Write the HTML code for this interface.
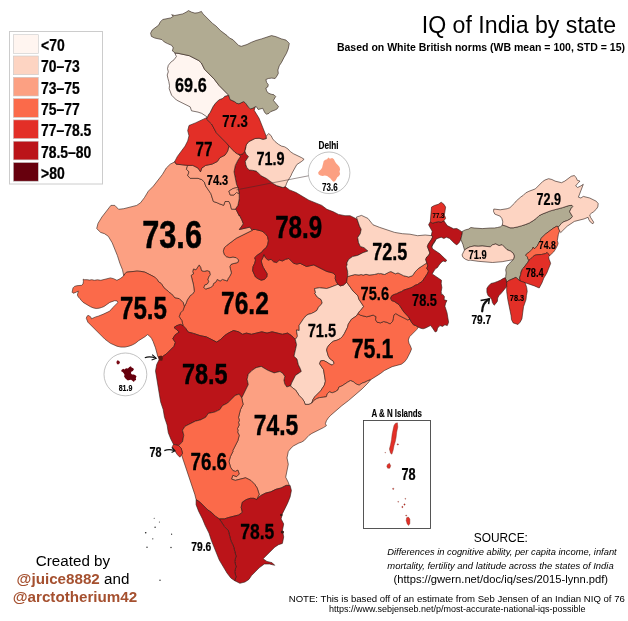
<!DOCTYPE html><html><head><meta charset="utf-8"><title>IQ of India by state</title><style>html,body{margin:0;padding:0;background:#fff}svg{display:block}</style></head><body><svg width="628" height="621" viewBox="0 0 628 621">
<rect width="628" height="621" fill="#fff"/>
<g stroke="#2a1a14" stroke-width="0.6" stroke-linejoin="round">
<path d="M328.8,288.0 338.1,284.4 336.3,281.8 335.2,278.6 335.5,275.4 333.1,273.0 326.7,271.4 313.8,264.9 306.5,266.5 300.1,263.3 296.9,264.1 293.6,263.3 288.8,258.5 285.6,259.3 282.4,260.9 279.2,260.1 276.7,262.5 273.5,261.7 271.1,259.3 267.9,260.1 265.5,257.7 263.9,254.5 262.8,257.7 261.2,260.9 262.0,264.1 263.2,267.3 267.1,273.8 266.8,277.0 264.4,279.4 261.2,280.2 257.9,278.6 255.5,277.0 252.6,270.6 253.1,266.5 254.7,263.3 255.5,260.1 254.7,257.7 257.1,255.3 262.0,252.0 263.6,249.6 266.0,248.0 267.6,244.8 268.4,240.8 267.6,236.7 265.2,233.5 262.0,231.1 255.5,229.5 253.0,229.5 252.3,230.3 236.2,238.3 226.5,245.6 224.1,248.0 223.3,251.2 224.1,254.5 226.5,256.9 229.8,257.7 233.0,257.2 236.2,257.7 238.6,260.1 237.8,262.5 231.4,264.1 229.8,266.5 231.4,273.0 229.8,276.2 228.1,278.6 227.3,281.0 222.5,279.4 220.1,281.0 217.2,279.4 216.1,281.8 213.6,283.4 212.8,285.9 210.4,287.5 205.6,289.1 204.0,287.5 204.8,285.0 207.2,284.2 208.8,281.8 208.0,279.4 208.8,277.0 210.4,274.6 209.6,271.4 207.2,270.6 204.0,271.4 201.6,270.6 200.8,267.3 199.2,264.9 195.9,269.8 193.5,268.9 192.7,271.4 193.5,273.8 191.1,275.4 193.5,285.0 194.3,291.5 192.7,293.9 190.3,295.5 187.1,300.3 186.3,302.8 184.3,306.6 183.1,310.2 180.5,312.8 179.2,316.7 181.8,320.5 183.1,325.7 185.6,328.3 188.2,332.1 193.4,333.4 200.0,335.6 206.4,336.9 216.7,342.1 220.6,339.5 224.5,335.6 228.3,333.1 233.5,330.5 238.6,331.8 242.5,334.3 246.4,333.1 251.5,334.3 261.8,331.8 267.0,333.1 272.1,331.8 282.4,334.3 287.6,333.1 291.5,335.6 295.3,339.5 297.3,336.6 297.4,335.8 296.4,330.0 299.2,330.5 299.2,325.3 304.3,317.6 305.1,317.1 305.6,316.0 308.1,314.4 311.3,313.6 314.5,312.0 316.9,310.4 318.5,307.2 320.9,304.8 322.2,302.9 321.1,299.6 317.2,297.0 314.7,293.1 315.8,292.4 315.3,291.9 314.5,288.6 319.3,287.8 326.7,288.5Z" fill="#fb6a4a"/>
<path d="M170.2,164.2 166.3,168.0 162.4,174.5 153.4,186.1 148.3,191.2 144.4,197.7 140.5,202.8 136.7,205.4 123.8,208.7 118.6,209.3 114.8,205.4 110.9,205.4 101.9,217.0 98.0,223.4 96.7,228.6 100.6,232.4 104.5,233.7 108.3,236.3 112.2,242.8 117.4,255.6 119.9,263.4 122.5,269.8 123.7,275.7 124.9,273.9 126.5,272.2 137.0,271.1 141.0,271.4 145.0,272.2 154.7,277.1 157.1,279.5 158.7,281.9 161.2,283.5 164.4,288.3 166.8,290.0 169.2,292.4 171.6,294.0 175.0,298.0 179.2,298.6 183.1,302.5 184.3,306.7 186.3,302.8 187.1,300.3 190.3,295.5 192.7,293.9 194.3,291.5 193.5,285.0 191.1,275.4 193.5,273.8 192.7,271.4 193.5,268.9 195.9,269.8 199.2,264.9 200.8,267.3 201.6,270.6 204.0,271.4 207.2,270.6 209.6,271.4 210.4,274.6 208.8,277.0 208.0,279.4 208.8,281.8 207.2,284.2 204.8,285.0 204.0,287.5 205.6,289.1 210.4,287.5 212.8,285.9 213.6,283.4 216.1,281.8 217.2,279.4 220.1,281.0 222.5,279.4 227.3,281.0 228.1,278.6 229.8,276.2 231.4,273.0 229.8,266.5 231.4,264.1 237.8,262.5 238.6,260.1 236.2,257.7 233.0,257.2 229.8,257.7 226.5,256.9 224.1,254.5 223.3,251.2 224.1,248.0 226.5,245.6 236.2,238.3 252.3,230.3 249.9,227.1 239.4,229.5 243.4,223.9 241.8,219.8 239.4,215.0 239.2,215.6 236.6,210.5 235.3,209.2 231.5,209.2 230.2,204.0 228.9,201.5 225.0,201.5 223.7,205.3 219.9,204.0 217.3,202.8 213.4,201.5 210.9,193.7 205.7,186.0 204.4,182.1 201.8,179.6 198.0,178.3 190.2,178.3 187.7,175.7 189.0,171.8 186.4,169.3 187.7,165.4 176.1,164.1 174.9,161.8Z" fill="#fca082"/>
<path d="M179.2,316.7 180.5,312.8 183.1,310.2 184.3,306.4 183.1,302.5 179.2,298.6 175.0,298.0 171.6,294.0 169.2,292.4 166.8,290.0 164.4,288.3 161.2,283.5 158.7,281.9 157.1,279.5 154.7,277.1 145.0,272.2 141.0,271.4 137.0,271.1 126.5,272.2 124.9,273.9 123.3,276.3 120.1,278.7 116.9,280.3 113.6,278.7 110.4,277.9 100.8,280.3 97.5,279.8 94.3,280.3 91.9,279.7 89.5,280.1 87.1,279.7 84.6,279.7 83.2,279.2 83.4,281.6 83.0,284.0 81.7,285.3 76.9,285.7 74.5,286.4 73.0,287.9 72.1,292.2 73.0,293.2 75.0,292.7 78.3,291.1 77.4,295.1 78.4,297.1 79.8,298.5 81.3,300.4 83.2,302.4 90.4,306.7 93.3,307.9 96.2,308.5 99.1,308.2 101.5,307.5 104.0,306.5 109.8,302.4 114.6,300.7 117.0,300.9 118.0,302.4 112.2,308.2 109.8,311.1 103.0,314.3 98.2,316.2 95.7,316.9 91.4,318.8 90.9,317.3 89.5,315.9 88.0,315.4 86.9,316.4 86.3,318.3 87.9,322.2 104.8,339.1 110.4,343.3 116.9,346.2 120.9,347.1 124.9,347.1 128.9,346.2 132.2,345.0 135.4,343.3 138.6,340.7 145.0,336.7 147.5,334.6 149.4,335.9 151.5,338.3 153.1,341.5 155.5,347.9 157.9,356.8 158.8,357.4 162.4,356.6 166.3,354.0 174.0,346.3 175.3,342.4 172.8,338.6 175.3,334.7 179.2,332.1 176.6,329.6 174.0,327.5 176.6,325.7 180.5,324.4 183.1,325.7 181.8,320.5Z" fill="#fb6a4a"/>
<path d="M294.0,356.2 296.6,344.7 295.3,339.5 291.5,335.6 287.6,333.1 282.4,334.3 272.1,331.8 267.0,333.1 261.8,331.8 251.5,334.3 246.4,333.1 242.5,334.3 238.6,331.8 233.5,330.5 228.3,333.1 224.5,335.6 220.6,339.5 216.7,342.1 206.4,336.9 200.0,335.6 193.4,333.4 188.2,332.1 185.6,328.3 183.1,325.7 180.5,324.4 176.6,325.7 174.0,327.5 176.6,329.6 179.2,332.1 175.3,334.7 172.8,338.6 175.3,342.4 174.0,346.3 166.3,354.0 162.4,356.6 158.6,357.4 159.3,359.3 156.7,364.5 155.5,370.9 160.6,401.8 163.2,409.6 164.5,417.3 167.1,425.0 168.3,432.8 170.9,439.2 173.5,444.3 178.6,445.6 182.5,441.8 183.8,435.3 182.5,430.2 185.1,426.3 195.4,421.2 200.5,419.9 205.7,417.3 208.3,413.4 214.7,412.1 219.9,409.6 222.4,405.7 227.6,403.1 235.3,395.4 239.2,394.1 241.8,398.0 248.3,384.5 247.1,379.3 248.3,374.2 252.2,370.3 256.1,367.7 261.2,366.4 267.7,370.3 274.1,372.9 280.0,371.5 282.9,373.5 284.8,376.4 283.9,380.2 284.8,384.1 286.8,387.0 289.7,386.0 290.6,386.0 291.6,383.1 295.5,375.4 301.3,371.5 300.3,368.6 298.4,364.8 297.0,359.0Z" fill="#bb1419"/>
<path d="M319.3,287.8 314.5,288.6 315.3,291.9 315.8,292.3 314.6,293.1 317.2,297.0 321.1,299.6 322.2,302.9 320.9,304.8 318.5,307.2 316.9,310.4 314.5,312.0 311.3,313.6 308.1,314.4 305.6,316.0 305.1,317.1 304.3,317.6 299.1,325.3 299.2,330.5 296.4,330.0 297.4,335.8 297.3,336.6 295.3,339.5 296.6,344.7 294.0,356.3 297.0,359.0 298.4,364.8 300.3,368.6 301.3,371.5 295.5,375.4 291.6,383.1 290.6,386.0 292.6,388.0 295.5,389.9 299.3,395.7 302.2,398.6 304.2,401.5 305.1,404.4 309.0,404.4 311.9,403.0 312.9,399.6 314.8,396.7 320.6,390.9 324.4,385.1 325.4,381.2 324.8,377.3 323.5,369.6 319.6,363.8 320.6,360.9 323.5,360.5 326.4,361.9 329.3,363.8 332.2,365.2 334.1,363.2 333.1,360.9 330.2,359.0 328.3,356.1 326.6,350.0 327.4,347.4 329.0,345.0 331.4,342.6 333.8,341.0 337.0,340.2 340.3,338.6 342.7,336.2 344.3,333.7 347.5,327.3 348.3,324.1 351.5,319.2 356.4,316.0 359.6,311.2 362.0,308.8 363.6,306.4 358.8,299.1 358.0,295.9 353.1,291.1 346.7,282.2 343.6,285.0 340.3,285.9 338.1,284.3 328.8,287.9 326.7,288.5Z" fill="#fdd4c2"/>
<path d="M356.4,316.0 351.5,319.2 348.3,324.1 347.5,327.3 344.3,333.7 342.7,336.2 340.3,338.6 337.0,340.2 333.8,341.0 331.4,342.6 329.0,345.0 327.4,347.4 326.6,350.0 328.3,356.1 330.2,359.0 333.1,360.9 334.1,363.2 332.2,365.2 329.3,363.8 326.4,361.9 323.5,360.5 320.6,360.9 319.6,363.8 323.5,369.6 325.4,381.2 324.4,385.1 320.6,390.9 314.8,396.7 312.9,399.6 311.9,403.0 313.8,400.5 316.7,398.6 319.6,397.6 323.5,397.2 326.4,396.7 327.3,393.8 329.3,391.8 332.2,392.8 335.1,391.8 338.0,389.9 338.9,387.0 341.8,386.0 347.6,382.2 350.5,380.6 353.4,381.8 356.3,384.1 359.2,385.1 362.1,383.1 365.0,382.2 367.9,380.6 370.4,379.9 380.5,373.5 384.3,370.6 392.1,366.7 401.4,364.2 404.6,361.8 407.0,358.6 410.3,352.1 411.5,348.9 410.3,345.7 409.0,343.3 408.3,340.0 409.5,336.8 416.7,329.6 418.3,327.2 415.9,325.6 413.5,324.8 411.5,322.3 409.9,319.1 407.8,319.9 398.2,315.1 395.8,313.5 393.8,315.1 393.3,318.3 392.5,321.5 390.1,323.9 386.9,322.3 383.7,321.5 380.5,322.8 377.2,322.3 375.6,319.9 376.1,316.7 373.2,315.1 366.8,316.8 360.4,315.2 358.0,313.6Z" fill="#fb6a4a"/>
<path d="M288.3,451.5 291.2,447.9 293.5,445.9 298.9,443.0 301.6,442.1 304.2,440.5 309.0,435.3 311.9,433.4 323.5,427.6 326.4,425.7 325.4,423.7 326.4,420.8 328.3,417.9 330.6,415.4 341.8,405.7 348.6,400.5 362.1,388.9 367.9,383.1 370.4,379.9 367.9,380.6 365.0,382.2 362.1,383.1 359.2,385.1 356.3,384.1 353.4,381.8 350.5,380.6 347.6,382.2 341.8,386.0 338.9,387.0 338.0,389.9 335.1,391.8 332.2,392.8 329.3,391.8 327.3,393.8 326.4,396.7 323.5,397.2 319.6,397.6 316.7,398.6 313.8,400.5 311.9,403.0 309.0,404.4 305.1,404.4 304.2,401.5 302.2,398.6 299.3,395.7 295.5,389.9 292.6,388.0 290.6,386.0 289.7,386.0 286.8,387.0 284.8,384.1 283.9,380.2 284.8,376.4 282.9,373.5 280.0,371.5 274.1,372.9 267.7,370.3 261.2,366.4 256.1,367.7 252.2,370.3 248.3,374.2 247.1,379.3 248.3,384.5 241.7,398.0 243.1,404.4 240.4,409.6 238.5,417.4 239.3,420.5 238.5,422.2 239.2,425.0 237.5,428.5 238.0,430.9 237.5,431.9 239.2,435.3 237.9,440.5 232.7,450.8 232.9,451.5 230.3,456.6 229.0,461.7 230.5,467.2 232.7,470.5 235.3,471.5 237.9,470.2 239.2,474.0 236.6,476.6 232.8,475.3 231.5,479.1 235.3,480.4 245.6,477.8 250.8,480.4 254.7,484.3 257.2,488.1 259.2,494.4 256.6,499.6 260.5,495.7 265.6,493.1 270.8,491.8 275.9,489.3 281.1,488.0 286.2,485.4 289.3,485.4 288.3,482.4 285.7,477.2 288.3,464.3 287.0,457.9Z" fill="#fca082"/>
<path d="M181.5,454.8 194.8,494.4 196.1,499.6 199.9,502.1 207.7,509.9 211.5,512.4 215.4,516.3 219.3,518.9 224.4,518.9 228.3,517.6 238.6,515.0 242.4,512.4 241.2,507.3 242.4,502.1 246.3,499.6 250.2,498.3 254.0,498.3 256.6,499.6 259.2,494.4 257.2,488.1 254.7,484.3 250.8,480.4 245.6,477.8 235.3,480.4 231.5,479.1 232.8,475.3 236.6,476.6 239.2,474.0 237.9,470.1 235.3,471.4 232.8,470.5 230.5,467.2 229.0,461.7 230.4,456.6 232.9,451.5 232.7,450.8 237.9,440.5 239.2,435.3 237.5,432.0 238.1,430.9 237.5,428.5 239.2,425.0 238.5,422.3 239.4,420.5 238.5,417.3 240.5,409.6 243.1,404.4 241.8,398.0 239.2,394.1 235.3,395.4 227.6,403.1 222.4,405.7 219.9,409.6 214.7,412.1 208.3,413.4 205.7,417.3 200.5,419.9 195.4,421.2 185.1,426.3 182.5,430.2 183.8,435.3 182.5,441.8 178.6,445.6 181.2,448.2 182.5,453.3Z" fill="#fb6a4a"/>
<path d="M172.2,446.9 177.4,454.7 179.9,457.2 182.5,453.4 181.2,448.2 178.6,445.6 173.5,444.3Z" fill="#e32f27"/>
<path d="M239.9,583.3 245.0,582.0 248.9,579.4 251.5,575.6 259.2,567.8 264.3,564.0 269.5,564.0 274.7,565.3 272.1,562.7 266.9,561.4 263.1,558.8 274.7,547.2 278.5,544.7 282.4,543.4 283.7,536.9 282.4,530.5 283.7,524.0 281.1,518.9 282.4,513.7 287.5,503.4 290.1,497.0 291.4,490.5 290.1,485.4 286.2,485.4 281.1,488.0 275.9,489.3 270.8,491.8 265.6,493.1 260.5,495.7 256.6,499.6 254.0,498.3 250.2,498.3 246.3,499.6 242.4,502.1 241.2,507.3 242.4,512.4 238.6,515.0 228.3,517.6 224.4,518.9 219.3,518.9 224.4,526.6 228.3,530.5 230.9,540.8 233.4,545.9 236.0,556.2 234.7,561.4 236.0,566.6 234.7,571.7 236.0,576.9 234.7,580.7Z" fill="#bb1419"/>
<path d="M196.1,504.7 198.6,511.2 202.5,518.9 205.1,525.3 209.0,533.1 211.5,540.8 219.3,560.1 227.0,573.0 230.9,578.1 234.7,580.7 236.0,576.9 234.7,571.7 236.0,566.6 234.7,561.4 236.0,556.2 233.4,545.9 230.9,540.8 228.3,530.5 224.4,526.6 219.3,518.9 215.4,516.3 211.5,512.4 207.7,509.9 199.9,502.1 196.1,499.6Z" fill="#bb1419"/>
<path d="M239.2,193.7 239.2,198.9 237.9,205.3 235.3,209.2 236.6,210.5 239.2,215.7 239.4,215.1 241.8,219.8 243.4,223.9 239.4,229.5 249.8,227.1 252.3,230.3 253.1,229.5 255.5,229.5 262.0,231.1 265.2,233.5 267.6,236.7 268.4,240.8 267.6,244.8 266.0,248.0 263.6,249.6 262.0,252.0 257.1,255.3 254.7,257.7 255.5,260.1 254.7,263.3 253.1,266.5 252.6,270.6 255.5,277.0 257.9,278.6 261.2,280.2 264.4,279.4 266.8,277.0 267.1,273.8 263.2,267.3 262.0,264.1 261.2,260.9 262.8,257.7 263.9,254.5 265.5,257.7 267.9,260.1 271.1,259.3 273.5,261.7 276.7,262.5 279.2,260.1 282.4,260.9 285.6,259.3 288.8,258.5 293.6,263.3 296.9,264.1 300.1,263.3 306.5,266.5 313.8,264.9 326.7,271.4 333.1,273.0 335.5,275.4 335.2,278.6 336.3,281.8 337.9,284.2 340.3,285.9 343.6,285.0 346.7,282.2 348.0,273.6 347.5,273.2 347.7,271.8 346.5,266.5 347.2,264.5 346.8,263.0 348.8,259.2 352.6,256.6 357.7,255.4 363.2,252.7 367.9,251.0 364.1,247.7 360.3,246.4 358.5,242.6 357.7,237.5 360.3,233.7 361.2,229.3 359.5,226.1 357.2,219.2 350.1,215.7 345.0,215.7 338.5,214.4 333.4,211.8 326.9,209.3 321.8,205.4 308.9,200.2 296.0,192.5 289.6,189.9 285.1,186.6 283.1,187.6 276.7,185.6 273.8,183.9 266.4,178.3 261.2,175.8 257.4,171.9 256.2,171.1 252.5,170.3 249.3,169.9 246.9,167.8 245.8,164.6 245.3,161.4 248.6,156.6 246.1,154.1 244.9,150.9 245.8,147.7 245.7,146.8 244.5,151.3 242.9,153.7 240.6,154.5 238.0,153.9 240.4,156.4 237.9,160.2 235.3,165.4 234.0,171.8 236.6,184.7 237.9,187.3Z" fill="#bb1419"/>
<path d="M248.5,156.6 245.3,161.4 245.8,164.6 246.9,167.8 249.3,169.9 252.5,170.3 256.2,171.1 257.3,171.9 261.2,175.8 266.4,178.4 273.8,183.9 276.7,185.6 283.1,187.6 285.1,186.6 285.4,186.8 286.4,183.9 287.6,181.2 290.9,175.9 292.0,173.2 296.8,164.6 301.7,161.4 304.1,159.3 301.7,157.7 293.6,153.8 290.4,151.7 288.0,149.0 284.8,146.9 281.5,146.1 278.3,144.2 275.1,141.6 272.7,138.9 271.1,135.6 268.6,133.5 265.9,136.6 266.3,138.5 263.1,139.3 259.1,138.2 255.0,138.5 248.6,141.7 246.2,144.9 245.7,146.9 245.8,147.7 244.8,150.9 246.1,154.2Z" fill="#fdd4c2"/>
<path d="M187.7,165.4 186.4,169.3 189.0,171.8 187.7,175.7 190.2,178.3 198.0,178.3 201.8,179.6 204.4,182.1 205.7,186.0 210.9,193.7 213.4,201.5 217.3,202.8 219.9,204.0 223.7,205.3 225.0,201.5 228.9,201.5 230.2,204.0 231.5,209.2 235.3,209.2 237.9,205.3 239.2,198.9 239.2,193.7 236.6,192.4 234.0,195.0 230.2,195.0 228.9,191.2 232.8,188.6 237.9,187.3 236.6,184.7 234.0,171.8 235.3,165.4 237.9,160.2 240.5,156.4 238.1,154.0 237.3,153.8 234.9,152.2 230.1,147.3 229.5,146.5 228.9,146.1 227.6,151.2 225.0,155.1 219.9,157.7 217.3,161.5 212.1,164.1 205.7,165.4 201.8,168.0 200.5,171.8 198.0,168.0 192.8,165.4Z" fill="#fca082"/>
<path d="M232.8,188.6 228.9,191.2 230.2,195.0 234.0,195.0 236.6,192.4 239.2,193.7 237.9,187.3Z" fill="#fca082"/>
<path d="M195.4,122.9 189.0,125.5 187.7,130.6 189.0,135.8 187.7,140.9 185.1,146.1 177.4,156.4 174.5,162.0 174.9,161.8 176.1,164.1 187.7,165.4 192.8,165.4 198.0,168.0 200.5,171.8 201.8,168.0 205.7,165.4 212.1,164.1 217.3,161.5 219.9,157.7 225.0,155.1 227.6,151.2 228.9,146.1 226.7,143.1 216.4,132.8 211.6,124.0 206.7,119.2 207.2,117.4Z" fill="#e32f27"/>
<path d="M213.2,106.3 210.0,112.7 208.2,115.1 207.5,117.2 207.3,117.1 206.7,119.2 211.6,124.0 216.4,132.8 226.6,143.1 228.9,146.1 229.6,146.5 230.1,147.3 234.9,152.2 237.3,153.8 240.6,154.6 243.0,153.8 244.6,151.4 246.2,144.9 248.6,141.7 255.0,138.5 259.1,138.2 263.1,139.3 266.3,138.5 266.0,136.7 266.3,136.4 259.1,118.3 254.2,110.3 255.2,106.9 252.5,108.3 250.3,108.9 248.6,107.2 245.2,102.7 243.5,101.6 239.0,103.8 236.8,103.3 234.5,101.6 230.0,99.5 228.7,95.1 224.7,96.4 222.8,98.2 218.8,99.8 215.6,103.1Z" fill="#e32f27"/>
<path d="M176.4,56.5 174.0,59.8 170.8,62.2 168.3,65.4 167.5,68.6 168.3,71.8 167.2,75.0 167.9,78.3 168.8,81.5 169.5,85.5 169.2,88.7 171.6,95.2 176.4,100.0 190.2,106.9 191.5,110.8 198.0,112.1 201.8,113.4 207.5,117.2 208.2,115.1 210.0,112.7 213.2,106.3 215.6,103.1 218.8,99.9 222.9,98.3 224.7,96.3 228.7,95.2 219.1,85.5 214.2,79.1 204.6,69.4 201.4,63.0 198.9,60.6 189.3,55.7 178.0,53.3 174.8,53.0Z" fill="#fff5f0"/>
<path d="M161.9,39.6 164.3,42.0 167.5,43.6 171.6,45.3 173.2,47.7 172.4,50.9 174.4,52.3 174.8,53.0 178.1,53.3 189.3,55.7 198.9,60.6 201.4,63.0 204.6,69.4 214.2,79.1 219.1,85.5 228.7,95.2 230.0,99.5 234.5,101.6 236.8,103.3 239.0,103.8 243.5,101.6 245.2,102.7 248.6,107.2 250.3,108.9 252.5,108.3 256.1,106.4 258.2,109.5 262.7,108.3 264.9,112.8 266.6,114.2 268.9,113.4 270.6,111.7 275.1,110.0 277.1,108.9 278.5,106.6 273.4,100.4 275.7,96.5 274.0,94.8 271.1,94.2 268.3,93.1 266.6,90.9 265.9,88.0 267.8,86.9 268.3,84.7 266.6,82.4 265.9,79.6 268.3,78.5 271.7,78.1 275.1,78.5 276.8,76.2 278.3,73.4 277.9,70.0 279.3,65.7 281.5,62.4 283.8,57.9 286.4,53.4 288.2,49.0 289.3,43.4 286.0,40.1 281.5,38.9 276.0,36.7 271.5,35.6 261.5,38.9 255.9,40.5 251.4,42.3 247.0,44.5 241.4,46.3 238.7,45.5 232.8,39.6 229.5,38.0 227.1,35.6 220.7,30.8 215.9,25.9 212.6,23.5 203.0,13.9 201.4,11.4 198.1,12.7 194.9,13.1 191.7,12.2 188.5,10.6 186.1,12.2 182.8,13.9 174.8,15.5 171.6,14.7 173.2,16.3 170.8,17.9 162.7,19.5 160.3,21.9 158.7,25.1 152.2,30.0 150.6,33.2 151.4,36.4 154.7,38.0Z" fill="#b1ab92"/>
<path d="M347.5,276.6 346.7,282.2 353.1,291.1 358.0,295.9 358.8,299.1 363.6,306.4 362.0,308.8 359.6,311.2 358.0,313.6 360.4,315.2 366.8,316.8 373.2,315.1 376.1,316.7 375.6,319.9 377.2,322.3 380.5,322.8 383.7,321.5 386.9,322.3 390.1,323.9 392.5,321.5 393.3,318.3 393.8,315.1 395.8,313.5 398.2,315.1 407.8,319.9 409.9,319.1 408.3,316.7 403.8,311.9 399.0,304.6 394.2,301.4 391.7,300.6 390.6,298.2 391.7,295.8 394.2,294.5 396.6,293.8 399.0,292.5 401.4,291.7 403.8,290.1 410.3,288.0 412.7,286.9 415.1,285.3 417.5,284.5 422.3,281.3 427.2,274.0 428.3,271.6 428.3,270.7 426.7,268.3 427.8,265.9 426.8,262.9 418.9,268.1 415.0,271.9 412.5,275.7 408.7,277.0 403.6,275.7 398.0,272.9 395.4,273.7 391.0,271.5 389.6,271.9 384.5,274.5 380.8,273.5 379.9,273.7 378.5,273.4 374.3,274.5 369.2,275.0 366.0,274.3 363.2,275.0 361.2,274.5 359.0,275.0 354.8,274.5 347.7,276.3Z" fill="#fb6a4a"/>
<path d="M367.9,218.4 361.5,215.4 356.4,217.1 359.5,226.1 361.2,229.2 360.3,233.7 357.7,237.5 358.5,242.6 360.3,246.4 364.1,247.7 367.9,251.0 362.8,252.8 357.7,255.4 352.6,256.6 348.8,259.2 346.8,263.0 347.2,264.4 346.4,266.5 347.7,271.8 347.5,273.2 347.9,273.6 347.5,276.6 354.8,274.6 359.0,275.0 361.1,274.5 363.2,275.1 366.0,274.3 369.2,275.0 374.3,274.5 378.5,273.4 379.9,273.8 380.8,273.5 384.5,274.5 389.6,271.9 391.0,271.6 395.4,273.8 398.0,272.9 403.6,275.7 408.7,277.0 412.5,275.7 415.0,271.9 418.9,268.1 426.8,262.9 425.7,259.4 426.7,257.0 428.6,255.4 429.9,253.0 427.4,246.5 428.3,244.1 431.5,239.3 432.7,236.9 432.1,235.7 425.2,235.0 417.6,235.7 409.9,234.2 402.3,233.7 394.6,232.4 379.4,227.3 373.0,224.8ZM435.2,241.3 435.8,239.4 432.7,244.1 431.5,246.5 431.9,247.3 432.6,245.2Z" fill="#fdd4c2"/>
<path d="M428.6,224.8 432.2,231.2 431.3,235.6 432.1,235.7 432.7,236.9 431.5,239.3 428.3,244.1 427.4,246.5 429.9,253.0 428.6,255.4 426.7,257.0 425.7,259.4 427.8,265.9 426.7,268.3 428.3,270.7 428.3,271.6 427.2,274.0 422.3,281.3 417.5,284.5 415.1,285.3 412.7,286.9 410.3,288.0 403.8,290.1 401.4,291.7 399.0,292.5 396.6,293.8 394.2,294.5 391.7,295.8 390.6,298.2 391.7,300.6 394.2,301.4 399.0,304.6 403.8,311.9 408.3,316.7 409.9,319.1 411.5,322.3 413.5,324.8 415.9,325.6 418.3,327.2 420.7,328.3 423.1,328.8 425.6,328.0 430.4,325.6 432.0,327.2 435.2,332.0 436.8,331.2 437.6,328.0 440.0,325.6 442.5,326.4 444.9,324.8 447.3,325.6 448.6,322.3 447.0,312.7 444.9,306.2 445.7,303.0 447.0,300.6 444.1,299.8 444.4,296.6 442.5,294.2 441.5,295.0 441.2,291.6 441.9,287.6 441.2,283.6 441.5,280.3 432.2,273.9 435.1,269.1 437.5,267.5 439.1,265.0 441.2,262.6 443.1,261.0 445.6,261.8 446.7,260.2 444.8,258.6 439.9,253.8 432.7,248.9 431.5,246.5 432.7,244.1 435.9,239.3 438.3,238.2 441.2,237.2 443.9,238.5 446.4,237.2 449.6,238.5 454.4,243.3 456.8,244.9 459.2,242.5 460.9,239.3 462.4,232.7 462.1,231.5 461.6,231.7 460.0,230.4 456.8,228.5 453.6,228.8 447.2,225.6 443.9,220.8 441.2,222.1 438.3,221.6 432.2,223.2 430.3,221.6Z" fill="#bb1419"/>
<path d="M431.5,207.1 430.3,221.6 432.2,223.2 438.3,221.6 441.2,222.1 443.9,220.8 445.6,218.3 444.4,215.1 445.6,207.1 443.9,204.3 441.2,202.2 438.3,204.3 434.3,205.5Z" fill="#e32f27"/>
<path d="M494.3,228.0 490.3,228.0 482.2,228.6 474.2,228.0 470.9,227.5 468.5,229.1 465.3,229.9 462.1,231.5 462.4,232.7 460.8,239.3 462.9,244.4 464.5,250.0 466.9,248.4 470.1,246.8 474.2,246.0 478.2,246.3 482.2,246.0 490.3,246.8 492.5,244.8 495.8,244.0 499.0,245.6 502.2,244.8 507.0,249.7 510.3,251.0 513.2,253.2 514.3,256.1 513.5,259.3 508.6,264.2 506.7,266.6 505.7,269.8 506.2,273.0 505.7,276.2 505.9,277.5 505.1,277.8 506.2,280.3 506.5,282.4 508.7,280.6 515.9,277.4 520.2,281.1 519.6,277.8 520.7,274.6 521.2,271.4 521.6,271.4 522.1,269.4 523.5,268.0 527.9,262.2 528.8,260.3 527.9,258.8 527.4,256.9 525.9,255.4 526.4,254.0 529.3,252.1 530.8,250.6 532.2,249.2 533.2,247.2 534.2,248.7 535.6,247.7 537.1,246.3 539.0,242.4 540.4,240.9 540.9,238.5 545.3,234.2 553.0,228.4 556.4,226.4 557.8,226.4 558.2,227.3 561.5,223.3 563.9,221.7 567.2,220.6 570.4,218.9 572.5,216.5 569.6,211.7 570.9,208.8 572.8,206.5 572.0,205.3 568.8,205.6 562.3,207.7 550.3,210.9 542.2,214.1 539.0,215.7 536.6,218.1 533.3,220.6 529.3,223.0 525.3,224.6 517.2,227.0 513.2,227.8 510.0,227.8 505.6,225.9 502.3,225.1 500.7,226.7 497.5,227.5Z" fill="#b1ab92"/>
<path d="M559.1,230.2 560.7,232.6 567.2,226.2 574.4,221.4 584.1,218.9 588.1,217.3 588.9,219.8 590.5,222.2 592.9,223.8 593.7,222.2 590.5,217.3 589.7,214.9 591.3,213.3 593.7,211.7 596.2,209.3 597.8,206.9 598.2,203.6 596.2,201.2 589.7,198.0 583.3,196.4 580.9,198.0 578.4,197.2 583.3,184.3 580.9,185.9 577.6,187.5 575.7,185.9 577.6,183.5 580.0,181.1 577.3,180.3 576.3,177.9 574.4,175.5 571.2,176.3 564.8,181.1 561.5,182.7 555.1,181.1 551.9,179.5 548.6,178.7 545.0,180.0 542.6,181.6 535.3,188.9 528.9,191.3 525.7,192.9 523.3,195.3 520.9,196.9 516.3,200.9 514.4,203.3 509.9,207.7 507.2,208.7 500.2,209.8 493.8,209.0 493.5,211.4 494.8,214.1 500.2,216.2 501.9,218.6 502.8,221.9 502.3,225.1 505.6,225.9 510.0,227.8 513.2,227.8 517.2,227.0 521.3,225.9 525.3,224.6 529.3,223.0 533.3,220.6 536.6,218.1 539.0,215.7 542.2,214.1 550.3,210.9 562.3,207.7 568.8,205.6 572.0,205.3 572.8,206.5 570.9,208.8 569.6,211.7 572.5,216.5 570.4,218.9 567.2,220.6 563.9,221.7 561.5,223.3 558.2,227.3Z" fill="#fdd4c2"/>
<path d="M462.1,254.9 462.9,257.3 465.3,259.2 468.5,260.5 470.0,260.1 478.1,261.3 492.5,262.5 502.2,261.7 513.3,259.6 513.5,259.3 514.3,256.1 513.2,253.2 510.3,251.0 507.0,249.7 502.2,244.8 499.0,245.6 495.8,244.0 492.5,244.8 490.3,246.8 482.2,246.0 478.2,246.3 474.2,246.0 470.1,246.8 466.9,248.4 464.5,250.0Z" fill="#fdd4c2"/>
<path d="M549.6,255.7 553.5,252.1 554.9,250.1 557.3,245.8 558.1,243.4 557.3,240.5 558.3,234.7 559.6,230.9 558.9,229.8 557.8,226.4 556.4,226.4 553.0,228.4 545.3,234.2 540.9,238.5 540.4,240.9 539.0,242.4 537.1,246.3 535.6,247.7 534.2,248.7 533.2,247.2 532.2,249.2 530.8,250.6 529.3,252.1 526.4,254.0 525.9,255.4 527.4,256.9 527.9,258.8 528.8,260.3 530.3,259.3 533.2,256.4 534.6,255.4 536.6,254.8 541.4,254.5 543.8,254.0 545.7,253.5 547.2,252.5Z" fill="#fb6a4a"/>
<path d="M527.9,262.2 523.5,268.0 522.1,269.4 521.6,271.4 521.2,271.4 520.7,274.6 519.6,277.8 520.2,281.1 534.4,285.9 539.2,288.0 541.9,283.0 543.8,278.1 546.7,273.3 550.6,263.6 550.1,261.7 549.1,259.3 548.6,256.7 549.7,255.7 547.2,252.5 545.7,253.5 543.8,254.0 541.4,254.5 536.6,254.8 534.6,255.4 533.2,256.4 530.3,259.3 528.8,260.3Z" fill="#e32f27"/>
<path d="M506.7,291.5 507.8,299.6 511.1,315.7 511.5,319.7 513.2,322.9 518.0,324.5 520.2,322.1 521.9,318.9 523.5,306.8 526.0,299.6 526.4,295.6 527.2,291.5 526.7,287.5 525.1,282.7 520.3,281.0 519.1,280.2 515.9,277.4 508.6,280.6 506.6,282.4Z" fill="#e32f27"/>
<path d="M506.7,283.5 506.2,280.3 505.1,277.8 503.0,278.6 500.3,280.3 497.4,281.5 494.2,282.7 490.9,283.5 488.5,285.9 486.9,288.3 486.9,292.3 488.0,295.6 490.1,297.2 491.7,299.6 492.5,302.8 494.2,305.2 495.8,303.6 497.4,301.2 497.7,298.0 499.0,295.6 501.4,293.1 506.7,286.5 506.5,285.0Z" fill="#bb1419"/>
</g>
<circle cx="329.1" cy="172.8" r="20.8" fill="#fff" stroke="#999" stroke-width="0.6"/>
<circle cx="125.4" cy="374.4" r="21.4" fill="#fff" stroke="#999" stroke-width="0.6"/>
<rect x="363.5" y="420.5" width="67" height="108" fill="#fff" stroke="#444" stroke-width="0.9"/>
<line x1="236.4" y1="189.9" x2="308.5" y2="175.8" stroke="#3a2a2a" stroke-width="0.5"/>
<path d="M328.3,157.5 329.9,158.7 332.2,158.1 333.9,159.2 335.0,161.5 336.1,163.2 337.8,164.9 339.5,167.1 340.1,169.4 339.5,171.6 340.1,173.9 339.0,176.1 337.3,177.3 336.1,179.5 335.0,181.2 333.3,181.8 331.6,180.1 330.5,178.4 328.8,177.3 327.1,176.1 324.9,175.6 322.6,176.1 320.4,175.6 318.7,174.5 318.1,172.8 319.2,171.1 320.9,169.4 322.1,167.7 322.6,165.4 323.2,163.2 323.7,160.9 325.4,159.8 327.1,159.2Z" fill="#fca082"/>
<path d="M116.4,362.0 117.5,360.3 119.2,360.9 120.0,362.5 118.9,364.2 117.0,364.2Z" fill="#7a0b16"/>
<path d="M121.5,369.9 123.2,368.7 124.5,369.5 126.0,368.2 127.9,368.4 129.4,367.1 130.9,366.2 131.6,367.6 133.3,368.2 133.9,369.5 132.8,371.0 131.3,371.8 130.9,373.3 132.0,374.4 133.9,374.4 135.4,375.2 136.5,376.3 135.8,378.3 136.1,380.0 134.7,380.6 133.9,381.9 132.4,380.8 131.1,379.7 129.4,380.0 127.9,380.6 126.6,379.5 125.2,378.3 124.1,376.6 124.5,374.7 123.7,373.3 122.6,372.1 121.2,371.3Z" fill="#67000d"/>
<path d="M158.2,356.2 L161.5,355.6 L163,358 L162.2,360.8 L159,360.6 Z" fill="#5a1a12"/>
<path d="M144.8,357.7 C148,356.6 152,356.8 155.6,358.2" fill="none" stroke="#111" stroke-width="1.2"/>
<path d="M152.2,354.6 L156.2,358.4 L151.6,360" fill="none" stroke="#111" stroke-width="1.1"/>
<path d="M164.3,450.6 C167,449.4 171,449.4 174,450.4" fill="none" stroke="#111" stroke-width="1.2"/>
<path d="M171.8,447.4 L175,450.8 L171.6,452.4" fill="none" stroke="#111" stroke-width="1.1"/>
<path d="M482.2,311.3 C482.3,306 484.5,302 488.6,299.4" fill="none" stroke="#111" stroke-width="2.3" stroke-linecap="round"/>
<path d="M480.6,300.6 L489.3,298.9 L488.6,304.2" fill="none" stroke="#111" stroke-width="1.5" stroke-linejoin="miter"/>
<g fill="#e32f27" stroke="#7a2a22" stroke-width="0.4"><path d="M395.3,423.4 397.4,422.8 397.8,427.0 396.7,432.2 396.1,437.5 395.3,441.6 394.0,445.8 393.2,450.0 391.9,454.2 390.5,453.2 389.4,449.0 390.5,444.8 391.5,439.6 392.1,434.3 393.2,429.1 394.0,425.5Z"/><path d="M387.3,464.7 389.4,463.2 390.7,465.7 389.8,468.2 387.7,468.2 386.9,466.4Z"/><path d="M406.6,517.7 408.3,517.0 409.9,519.1 409.9,523.3 408.7,525.4 407.2,524.0 406.2,520.6Z"/><circle cx="397.8" cy="444.4" r="0.63"/><circle cx="393.2" cy="488.8" r="0.63"/><circle cx="398.2" cy="501.8" r="0.42"/><circle cx="405.3" cy="498.8" r="0.42"/><circle cx="404.5" cy="504.5" r="0.63"/><circle cx="402.4" cy="507.0" r="0.63"/><circle cx="406.2" cy="515.6" r="0.52"/><circle cx="385.2" cy="452.7" r="0.31"/></g>
<g fill="#222"><circle cx="154.2" cy="518.3" r="0.5"/><circle cx="159.4" cy="522.1" r="0.5"/><circle cx="155.1" cy="527.3" r="0.7"/><circle cx="145.7" cy="532.8" r="0.8"/><circle cx="171.6" cy="534.2" r="0.6"/><circle cx="152.8" cy="538.8" r="0.6"/><circle cx="147" cy="547.2" r="0.7"/><circle cx="171" cy="547.5" r="0.7"/><circle cx="160" cy="580.3" r="0.7"/></g>
<circle cx="281.3" cy="515" r="1.2" fill="#3a1a14"/><circle cx="282.4" cy="532" r="1.6" fill="#3a1a14"/>
<g font-family="Liberation Sans, Arial, sans-serif" font-weight="bold" text-anchor="middle" fill="#000" stroke="#000" stroke-linejoin="round">
<text transform="translate(190.9,91.6) scale(0.775,1)" font-size="21.0" stroke-width="0.29">69.6</text>
<text transform="translate(235.0,127.2) scale(0.775,1)" font-size="17.0" stroke-width="0.24">77.3</text>
<text transform="translate(204.0,156.2) scale(0.775,1)" font-size="19.7" stroke-width="0.28">77</text>
<text transform="translate(270.5,164.9) scale(0.775,1)" font-size="18.7" stroke-width="0.26">71.9</text>
<text transform="translate(217.5,185.3) scale(0.775,1)" font-size="14.3" stroke-width="0.20">74.3</text>
<text transform="translate(172.1,247.9) scale(0.775,1)" font-size="39.6" stroke-width="0.55">73.6</text>
<text transform="translate(298.7,238.0) scale(0.775,1)" font-size="31.2" stroke-width="0.44">78.9</text>
<text transform="translate(389.8,259.7) scale(0.775,1)" font-size="23.3" stroke-width="0.33">72.5</text>
<text transform="translate(143.5,319.1) scale(0.775,1)" font-size="31.1" stroke-width="0.44">75.5</text>
<text transform="translate(244.9,314.4) scale(0.775,1)" font-size="31.7" stroke-width="0.44">76.2</text>
<text transform="translate(374.8,300.3) scale(0.775,1)" font-size="18.9" stroke-width="0.26">75.6</text>
<text transform="translate(424.5,306.3) scale(0.775,1)" font-size="16.5" stroke-width="0.23">78.5</text>
<text transform="translate(321.9,337.0) scale(0.775,1)" font-size="18.9" stroke-width="0.26">71.5</text>
<text transform="translate(372.5,358.2) scale(0.775,1)" font-size="27.5" stroke-width="0.39">75.1</text>
<text transform="translate(204.8,383.7) scale(0.775,1)" font-size="30.3" stroke-width="0.42">78.5</text>
<text transform="translate(276.1,434.7) scale(0.775,1)" font-size="29.5" stroke-width="0.41">74.5</text>
<text transform="translate(208.8,469.9) scale(0.775,1)" font-size="24.2" stroke-width="0.34">76.6</text>
<text transform="translate(257.3,538.9) scale(0.775,1)" font-size="22.6" stroke-width="0.32">78.5</text>
<text transform="translate(548.7,204.9) scale(0.775,1)" font-size="16.3" stroke-width="0.23">72.9</text>
<text transform="translate(477.6,258.8) scale(0.775,1)" font-size="12.0" stroke-width="0.17">71.9</text>
<text transform="translate(547.3,248.5) scale(0.775,1)" font-size="11.2" stroke-width="0.16">74.8</text>
<text transform="translate(534.7,277.0) scale(0.775,1)" font-size="11.9" stroke-width="0.17">78.4</text>
<text transform="translate(517.0,300.6) scale(0.775,1)" font-size="9.5" stroke-width="0.13">78.3</text>
<text transform="translate(438.4,217.8) scale(0.775,1)" font-size="7.8" stroke-width="0.11">77.3</text>
<text transform="translate(481.3,323.8) scale(0.775,1)" font-size="13.1" stroke-width="0.18">79.7</text>
<text transform="translate(155.6,456.5) scale(0.775,1)" font-size="14.0" stroke-width="0.20">78</text>
<text transform="translate(201.3,551.0) scale(0.775,1)" font-size="13.3" stroke-width="0.19">79.6</text>
<text transform="translate(125.5,390.7) scale(0.775,1)" font-size="9.1" stroke-width="0.13">81.9</text>
<text transform="translate(329.8,190.6) scale(0.775,1)" font-size="10.3" stroke-width="0.14">73.6</text>
<text transform="translate(328.6,149.1) scale(0.775,1)" font-size="10.6" stroke-width="0.15">Delhi</text>
<text transform="translate(408.6,480.1) scale(0.775,1)" font-size="16.4" stroke-width="0.23">78</text>
<text transform="translate(396.7,416.8) scale(0.775,1)" font-size="10.2" stroke-width="0.14">A &amp; N Islands</text>
</g>
<rect x="9.5" y="31.5" width="93" height="152.5" fill="#fff" stroke="#ccc" stroke-width="1"/>
<rect x="13.3" y="34.7" width="25" height="18.7" fill="#fff5f0" stroke="#c8c8c8" stroke-width="0.6"/>
<text transform="translate(41,51.1) scale(0.825,1)" font-family="Liberation Sans, Arial, sans-serif" font-weight="bold" font-size="16.9" stroke="#000" stroke-width="0.25">&lt;70</text>
<rect x="13.3" y="56.0" width="25" height="18.7" fill="#fdd4c2" stroke="#c8c8c8" stroke-width="0.6"/>
<text transform="translate(41,72.4) scale(0.825,1)" font-family="Liberation Sans, Arial, sans-serif" font-weight="bold" font-size="16.9" stroke="#000" stroke-width="0.25">70–73</text>
<rect x="13.3" y="77.3" width="25" height="18.7" fill="#fca082" stroke="#c8c8c8" stroke-width="0.6"/>
<text transform="translate(41,93.7) scale(0.825,1)" font-family="Liberation Sans, Arial, sans-serif" font-weight="bold" font-size="16.9" stroke="#000" stroke-width="0.25">73–75</text>
<rect x="13.3" y="98.6" width="25" height="18.7" fill="#fb6a4a" stroke="#c8c8c8" stroke-width="0.6"/>
<text transform="translate(41,115.0) scale(0.825,1)" font-family="Liberation Sans, Arial, sans-serif" font-weight="bold" font-size="16.9" stroke="#000" stroke-width="0.25">75–77</text>
<rect x="13.3" y="119.9" width="25" height="18.7" fill="#e32f27" stroke="#c8c8c8" stroke-width="0.6"/>
<text transform="translate(41,136.3) scale(0.825,1)" font-family="Liberation Sans, Arial, sans-serif" font-weight="bold" font-size="16.9" stroke="#000" stroke-width="0.25">77–78.5</text>
<rect x="13.3" y="141.2" width="25" height="18.7" fill="#bb1419" stroke="#c8c8c8" stroke-width="0.6"/>
<text transform="translate(41,157.6) scale(0.825,1)" font-family="Liberation Sans, Arial, sans-serif" font-weight="bold" font-size="16.9" stroke="#000" stroke-width="0.25">78.5–80</text>
<rect x="13.3" y="162.5" width="25" height="18.7" fill="#67000d" stroke="#c8c8c8" stroke-width="0.6"/>
<text transform="translate(41,178.9) scale(0.825,1)" font-family="Liberation Sans, Arial, sans-serif" font-weight="bold" font-size="16.9" stroke="#000" stroke-width="0.25">&gt;80</text>
<text x="616" y="32.6" text-anchor="end" font-family="Liberation Sans, Arial, sans-serif" font-size="23.15">IQ of India by state</text>
<text x="625" y="51" text-anchor="end" font-family="Liberation Sans, Arial, sans-serif" font-weight="bold" font-size="10.53">Based on White British norms (WB mean = 100, STD = 15)</text>
<text x="500.8" y="541.6" text-anchor="middle" font-family="Liberation Sans, Arial, sans-serif" font-size="11.9">SOURCE:</text>
<text x="502" y="554.7" text-anchor="middle" font-family="Liberation Sans, Arial, sans-serif" font-style="italic" font-size="9.35">Differences in cognitive ability, per capita income, infant</text>
<text x="500.5" y="569.2" text-anchor="middle" font-family="Liberation Sans, Arial, sans-serif" font-style="italic" font-size="9.45">mortality, fertility and latitude across the states of India</text>
<text x="500.8" y="583.2" text-anchor="middle" font-family="Liberation Sans, Arial, sans-serif" font-size="11.2">(https://gwern.net/doc/iq/ses/2015-lynn.pdf)</text>
<text x="456.8" y="602" text-anchor="middle" font-family="Liberation Sans, Arial, sans-serif" font-size="9.6">NOTE: This is based off of an estimate from Seb Jensen of an Indian NIQ of 76</text>
<text x="457.3" y="612.2" text-anchor="middle" font-family="Liberation Sans, Arial, sans-serif" font-size="9">https://www.sebjenseb.net/p/most-accurate-national-iqs-possible</text>
<text x="73" y="565.7" text-anchor="middle" font-family="Liberation Sans, Arial, sans-serif" font-size="15.2">Created by</text>
<text x="73" y="583.5" text-anchor="middle" font-family="Liberation Sans, Arial, sans-serif" font-size="15.2"><tspan font-weight="bold" fill="#a5502f">@juice8882</tspan> and</text>
<text x="75" y="601.7" text-anchor="middle" font-family="Liberation Sans, Arial, sans-serif" font-size="15.2" font-weight="bold" fill="#a5502f">@arctotherium42</text>
</svg></body></html>
